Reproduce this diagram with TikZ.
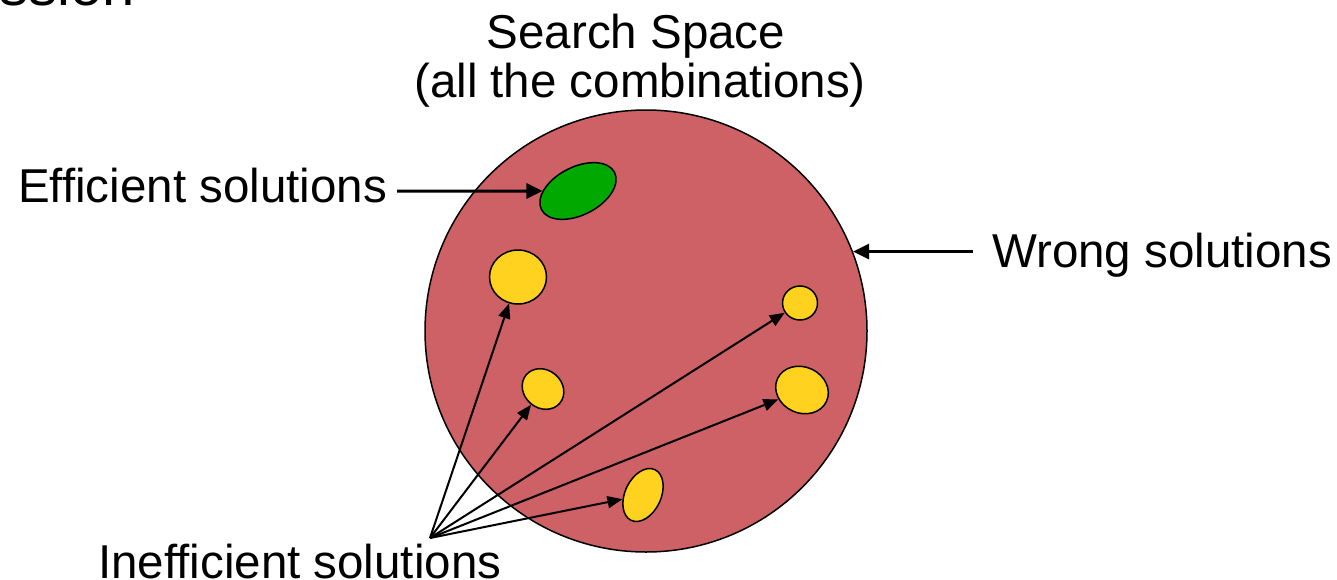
\documentclass[tikz,border=0pt]{standalone}
\usepackage{fontspec}
\setmainfont{Liberation Sans}
\usetikzlibrary{shapes.geometric,arrows.meta}
\definecolor{spacered}{RGB}{205,97,101}
\definecolor{goodgreen}{RGB}{0,168,0}
\definecolor{okyellow}{RGB}{255,210,32}

\begin{document}
\begin{tikzpicture}[x=1pt,y=-1pt,>={Triangle[length=16pt,width=15pt]},
  lbl/.style={inner sep=0pt,font=\fontsize{47.5}{55}\selectfont},
  blob/.style={draw,ellipse,line width=1.5pt,inner sep=0pt},
  pick/.style={->,line width=2pt,>={Triangle[length=15pt,width=12pt]}}]
  \useasboundingbox (0,0) rectangle (1337,579);
  \node[inner sep=0pt,anchor=base east,font=\fontsize{58}{60}\selectfont] (head) at (135,5.5) {ssion};
  \node[lbl,anchor=base] (title) at (636,48) {Search Space};
  \node[lbl,anchor=base] (sub) at (640,97) {(all the combinations)};
  \node[draw,circle,fill=spacered,line width=1.5pt,inner sep=0pt,minimum size=442pt] (space) at (646,331) {};
  \node[blob,fill=goodgreen,minimum width=82pt,minimum height=48pt,rotate=27] (green) at (578,191) {};
  \node[blob,fill=okyellow,minimum width=57pt,minimum height=54pt] (y1) at (518,277) {};
  \node[blob,fill=okyellow,minimum width=44pt,minimum height=38pt,rotate=-40] (y2) at (543,389) {};
  \node[blob,fill=okyellow,minimum width=56pt,minimum height=36pt,rotate=65] (y3) at (643,495) {};
  \node[blob,fill=okyellow,minimum width=35pt,minimum height=34pt] (y4) at (800,303) {};
  \node[blob,fill=okyellow,minimum width=54pt,minimum height=46pt,rotate=-25] (y5) at (802,390) {};
  \node[lbl,inner xsep=10pt,anchor=base west] (eff) at (8,202) {Efficient solutions};
  \node[lbl,inner xsep=19pt,anchor=base west] (wrong) at (973,267) {Wrong solutions};
  \node[lbl,anchor=base west] (ineff) at (98,578) {Inefficient solutions};
  \coordinate (fan) at (430,538);
  \draw[->,line width=3pt] (eff.east |- green) -- (green);
  \draw[->,line width=3pt] (wrong.west |- space.21) -- (space.21);
  \foreach \b in {y1,y2,y3,y4,y5}
    \draw[pick] (fan) -- (\b);
\end{tikzpicture}
\end{document}
